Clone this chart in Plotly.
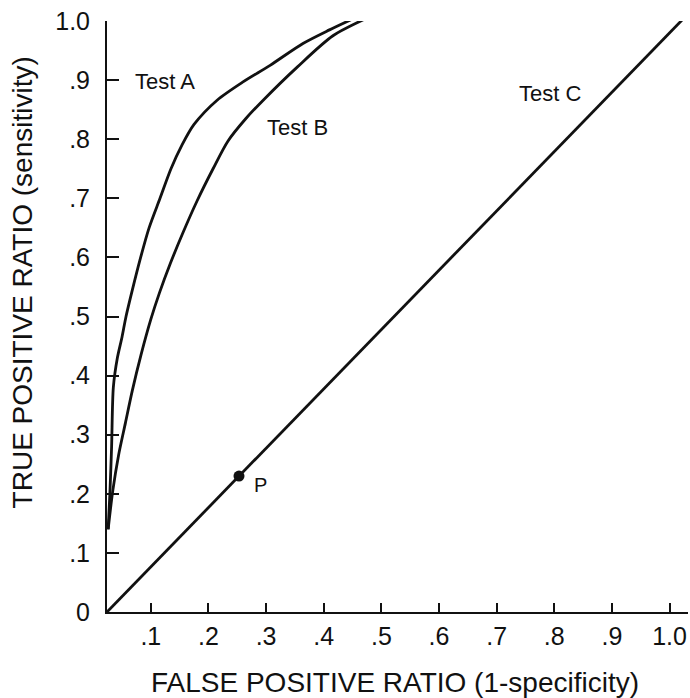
import plotly.graph_objects as go

# Test A ROC curve (false positive ratio, true positive ratio)
test_a_x = [0.026, 0.029, 0.032, 0.035, 0.042, 0.050, 0.057, 0.068, 0.081, 0.097, 0.116, 0.135, 0.154, 0.175, 0.215, 0.260, 0.307, 0.364, 0.410, 0.458]
test_a_y = [0.140, 0.200, 0.280, 0.380, 0.430, 0.465, 0.500, 0.545, 0.595, 0.650, 0.700, 0.750, 0.790, 0.825, 0.866, 0.897, 0.925, 0.962, 0.985, 1.007]

# Test B ROC curve
test_b_x = [0.026, 0.034, 0.044, 0.056, 0.068, 0.083, 0.100, 0.115, 0.134, 0.155, 0.180, 0.208, 0.234, 0.265, 0.295, 0.354, 0.416, 0.475]
test_b_y = [0.140, 0.205, 0.265, 0.320, 0.375, 0.435, 0.495, 0.540, 0.590, 0.640, 0.695, 0.750, 0.797, 0.835, 0.866, 0.922, 0.975, 1.005]

# Test C (chance diagonal)
test_c_x = [0.024, 1.027]
test_c_y = [0.0, 1.007]

# Point P on Test C
p_x = [0.253]
p_y = [0.230]

x_tick_vals = [0.1, 0.2, 0.3, 0.4, 0.5, 0.6, 0.7, 0.8, 0.9, 1.0]
x_tick_text = [".1", ".2", ".3", ".4", ".5", ".6", ".7", ".8", ".9", "1.0"]
y_tick_vals = [0.0, 0.1, 0.2, 0.3, 0.4, 0.5, 0.6, 0.7, 0.8, 0.9, 1.0]
y_tick_text = ["0", ".1", ".2", ".3", ".4", ".5", ".6", ".7", ".8", ".9", "1.0"]

labels = ["Test A", "Test B", "Test C", "P"]
label_x = [0.125, 0.354, 0.792, 0.290]
label_y = [0.897, 0.820, 0.878, 0.215]

INK = "#111111"
FONT = "Liberation Sans, Arial, Helvetica, sans-serif"

fig = go.Figure()
for xs, ys in [(test_a_x, test_a_y), (test_b_x, test_b_y), (test_c_x, test_c_y)]:
    fig.add_trace(go.Scatter(x=xs, y=ys, mode="lines",
                             line=dict(color=INK, width=2.8, shape="spline", smoothing=0.8),
                             cliponaxis=False, showlegend=False, hoverinfo="skip"))
fig.add_trace(go.Scatter(x=p_x, y=p_y, mode="markers",
                         marker=dict(color=INK, size=11), cliponaxis=False,
                         showlegend=False, hoverinfo="skip"))

for t, lx, ly in zip(labels, label_x, label_y):
    fig.add_annotation(x=lx, y=ly, text=t, showarrow=False,
                       font=dict(family=FONT, size=22 if t != "P" else 20, color=INK))

fig.add_annotation(xref="paper", yref="paper", x=0.496, y=-0.120,
                   text="FALSE POSITIVE RATIO (1-specificity)", showarrow=False,
                   font=dict(family=FONT, size=28, color=INK), yanchor="middle")
fig.add_annotation(xref="paper", yref="paper", x=-0.146, y=0.558,
                   text="TRUE POSITIVE RATIO (sensitivity)", showarrow=False, textangle=-90,
                   font=dict(family=FONT, size=28, color=INK), xanchor="center", yanchor="middle")

fig.update_xaxes(range=[0.024, 1.032], tickvals=x_tick_vals, ticktext=x_tick_text,
                 ticks="inside", ticklen=9, tickwidth=2, tickcolor=INK,
                 showline=True, linewidth=2, linecolor=INK, showgrid=False, zeroline=False,
                 tickfont=dict(family=FONT, size=25, color=INK), ticklabelstandoff=1,
                 automargin=False)
fig.update_yaxes(range=[0, 1.0], tickvals=y_tick_vals, ticktext=y_tick_text,
                 ticks="inside", ticklen=12, tickwidth=2, tickcolor=INK,
                 showline=True, linewidth=2, linecolor=INK, showgrid=False, zeroline=False,
                 tickfont=dict(family=FONT, size=25, color=INK), ticklabelstandoff=10,
                 automargin=False)

fig.update_layout(width=690, height=698, margin=dict(l=107, r=2, t=21, b=86, autoexpand=False),
                  plot_bgcolor="white", paper_bgcolor="white")

# remove the default page margin so the 690x698 figure fills the window exactly
fig.write_html("out.html", config={"displayModeBar": False},
               post_script="document.body.style.margin='0';document.body.style.overflow='hidden';")
